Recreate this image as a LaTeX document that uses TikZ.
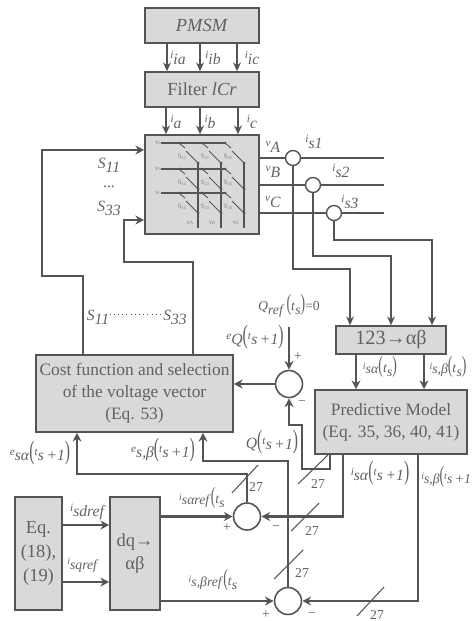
\documentclass[tikz,border=0pt]{standalone}
\usepackage{fontspec}
\setmainfont{Liberation Serif}
\usetikzlibrary{arrows.meta}
\definecolor{boxgray}{gray}{0.85}
\definecolor{inkgray}{gray}{0.33}
\definecolor{txtgray}{gray}{0.38}
\newcommand{\lsub}[2]{\textit{#1}\raisebox{-.55ex}{\textit{#2}}}
\newcommand{\ssub}[2]{\raisebox{.55ex}{\scalebox{.72}{\textit{#1}}}\raisebox{-.2ex}{\textit{#2}}}
\newcommand{\tallpar}[1]{\scalebox{1}[1.7]{(}#1\scalebox{1}[1.7]{)}}
\tikzset{
    blockbox/.style={draw=inkgray, fill=boxgray, line width=0.9pt, inner sep=0pt, align=center, text=txtgray, font=\fontsize{9.9}{12.6}\selectfont},
    sumcirc/.style={draw=inkgray, fill=white, circle, line width=0.9pt, inner sep=0pt, minimum size=0.54cm},
    sensor/.style={draw=inkgray, fill=white, circle, line width=0.8pt, inner sep=0pt, minimum size=0.3cm},
    thickline/.style={draw=inkgray, line width=1.2pt},
    thinline/.style={draw=inkgray, line width=0.75pt},
    thickarrow/.style={thickline, -{Stealth[length=5pt,width=5pt]}},
    thinarrow/.style={thinline, -{Stealth[length=5pt,width=4.5pt]}},
    lbl/.style={text=txtgray, inner sep=0pt, font=\fontsize{8.9}{11}\selectfont},
    smalllbl/.style={text=txtgray, inner sep=0pt, font=\fontsize{7.8}{9}\selectfont},
    tinylbl/.style={text=gray, inner sep=0pt, font=\fontsize{3.8}{4}\selectfont},
    busmark/.style={draw=inkgray, line width=0.6pt},
}
\begin{document}
\begin{tikzpicture}[x=0.02cm, y=-0.02cm]
            \useasboundingbox (0,0) rectangle (471,621);

            % Blocks
            \node[blockbox, minimum width=2.28cm, minimum height=0.7cm, font=\fontsize{10.5}{12}\selectfont] (pmsm) at (202,25.5) {\textit{PMSM}};
            \node[blockbox, minimum width=2.28cm, minimum height=0.7cm, font=\fontsize{10.5}{12}\selectfont] (filter) at (202,89.5) {Filter \textit{lCr}};
            \node[blockbox, minimum width=2.28cm, minimum height=1.98cm] (matrix) at (202,184.5) {};
            \node[blockbox, minimum width=3.94cm, minimum height=1.54cm] (cost) at (134.5,393.5) {Cost function and selection\\of the voltage vector\\(Eq. 53)};
            \node[blockbox, minimum width=2.2cm, minimum height=0.56cm, font=\fontsize{11.5}{14}\selectfont] (park) at (391,340) {123\textbf{→}αβ};
            \node[blockbox, minimum width=3.04cm, minimum height=1.28cm] (model) at (391,422) {Predictive Model\\(Eq. 35, 36, 40, 41)};
            \node[blockbox, minimum width=0.94cm, minimum height=2.26cm, font=\fontsize{10.5}{13.5}\selectfont] (eqs) at (38.5,553.5) {Eq.\\(18),\\(19)};
            \node[blockbox, minimum width=1cm, minimum height=2.26cm, font=\fontsize{10.5}{13.5}\selectfont] (dq) at (135,553.5) {dq\textbf{→}\\αβ};

            % Summing circles
            \node[sumcirc] (sumq) at (289,384) {};
            \node[sumcirc] (sumalpha) at (247,516.5) {};
            \node[sumcirc] (sumbeta) at (288,601) {};

            % Current sensors
            \node[sensor] (sens1) at (293,158) {};
            \node[sensor] (sens2) at (313,185) {};
            \node[sensor] (sens3) at (334,213) {};

            % Free line ends and bends
            \foreach \name/\x/\y in {ta/167/0, tb/200/0, tc/237/0, ua/166/0, ub/200/0, uc/238/0,
                    endA/384/158, endB/384/185, endC/384/213, fbin/0/150, fbout/0/220,
                    fba/83/0, fbb/193/0, parka/350/0, parkb/391/0, parkc/432/0,
                    moda/356/0, modb/424/0, outq/330/0, outa/343/0, outb/418/0,
                    erra/77/0, errb/203/0, refq/289/327, eqa/0/525, eqb/0/582} {
                \coordinate (\name) at (\x,\y);
            }

            % Currents into the converter
            \foreach \pt in {ta, tb, tc} {
                \draw[thinarrow] (pmsm.south -| \pt) -- (filter.north -| \pt);
            }
            \foreach \pt in {ua, ub, uc} {
                \draw[thinarrow] (filter.south -| \pt) -- (matrix.north -| \pt);
            }

            % Output phases
            \draw[thinline] (matrix.east |- endA) -- (sens1) -- (endA);
            \draw[thinline] (matrix.east |- endB) -- (sens2) -- (endB);
            \draw[thinline] (matrix.east |- endC) -- (sens3) -- (endC);

            % Sensor lines to the transform
            \draw[thinarrow] (sens1) -- (293,269) -| (park.north -| parka);
            \draw[thinarrow] (sens2) -- (313,256) -| (park.north -| parkb);
            \draw[thinarrow] (sens3) -- (334,240) -| (park.north -| parkc);

            % Gate signals
            \draw[thickarrow] (cost.north -| fba) |- (42,276) |- (matrix.west |- fbin);
            \draw[thickarrow] (cost.north -| fbb) |- (124,262) |- (matrix.west |- fbout);

            % Transform to model
            \foreach \pt in {moda, modb} {
                \draw[thickarrow] (park.south -| \pt) -- (model.north -| \pt);
            }

            % Reactive power loop
            \draw[thickarrow] (refq) -- (sumq);
            \draw[thickarrow] (sumq) -- (cost.east |- sumq);
            \draw[thickarrow] (model.south -| outq) |- (302,469) |- (289,425) -- (sumq);

            % Alpha and beta loops
            \draw[thickarrow] (model.south -| outa) |- (sumalpha);
            \draw[thickarrow] (model.south -| outb) |- (sumbeta);
            \draw[thickarrow] (sumalpha) |- (erra |- 0,474) -- (cost.south -| erra);
            \draw[thickarrow] (sumbeta) |- (errb |- 0,461) -- (cost.south -| errb);

            % References
            \draw[thickarrow] (eqs.east |- eqa) -- (dq.west |- eqa);
            \draw[thickarrow] (eqs.east |- eqb) -- (dq.west |- eqb);
            \draw[thickarrow] (dq.east |- sumalpha) -- (sumalpha);
            \draw[thickarrow] (dq.east |- sumbeta) -- (sumbeta);

            % Switch grid
            \foreach \col/\cx in {1/179, 2/202, 3/225} {
                \draw[thinline] ({\cx+19},163) -- ({\cx+19},228);
                \foreach \row/\ry in {1/143, 2/169, 3/193} {
                    \fill[inkgray] (\cx,\ry) circle (1.5);
                    \fill[inkgray] ({\cx+19},{\ry+20}) circle (1.5);
                    \draw[inkgray, line width=0.5pt] (\cx,\ry) -- ({\cx+6},{\ry+5});
                    \draw[inkgray, line width=0.5pt] ({\cx+7},{\ry+8}) -- ({\cx+19},{\ry+20});
                    \node[tinylbl] (sw\col\row) at ({\cx+3},{\ry+14}) {S\raisebox{-.3ex}{\scalebox{.7}{\col\row}}};
                }
            }
            \foreach \name/\y/\txt in {a/143/a, b/169/b, c/193/c} {
                \node[tinylbl] (vin\name) at (158,\y) {v\raisebox{-.3ex}{\scalebox{.7}{\txt}}};
                \draw[thinline] (vin\name.east) -- (224,\y);
            }
            \foreach \name/\x/\txt in {A/190/A, B/212/B, C/236/C} {
                \node[tinylbl] (vout\name) at (\x,223) {v\raisebox{-.3ex}{\scalebox{.7}{\txt}}};
            }

            % Labels
            \node[lbl] (liia) at (178,58) {\ssub{i}{ia}};
            \node[lbl] (liib) at (213,58) {\ssub{i}{ib}};
            \node[lbl] (liic) at (252,58) {\ssub{i}{ic}};
            \node[lbl] (lia) at (176,122) {\ssub{i}{a}};
            \node[lbl] (lib) at (210,122) {\ssub{i}{b}};
            \node[lbl] (lic) at (252,122) {\ssub{i}{c}};
            \node[lbl] (lva) at (273,147) {\ssub{v}{A}};
            \node[lbl] (lvb) at (273,172) {\ssub{v}{B}};
            \node[lbl] (lvc) at (273,202) {\ssub{v}{C}};
            \node[lbl] (lis1) at (314,142) {\ssub{i}{s1}};
            \node[lbl] (lis2) at (341,171) {\ssub{i}{s2}};
            \node[lbl] (lis3) at (350,202) {\ssub{i}{s3}};
            \node[lbl] (ls11) at (109,165) {\lsub{S}{11}};
            \node[lbl] (ldots) at (109,187) {...};
            \node[lbl] (ls33) at (109,208) {\lsub{S}{33}};
            \node[lbl] (lsa) at (98,317) {\lsub{S}{11}};
            \node[lbl] (lsb) at (175,317) {\lsub{S}{33}};
            \draw[dotted, inkgray] (lsa.east |- 0,314) -- (lsb.west |- 0,314);
            \node[smalllbl] (lqref) at (289,306) {\lsub{Q}{ref}\,\tallpar{\lsub{t}{s}}=0};
            \node[lbl] (leq) at (255,337) {\ssub{e}{Q}\tallpar{\ssub{t}{s\,+1}}};
            \node[smalllbl] (lisa) at (380,367) {\ssub{i}{sα}\tallpar{\lsub{t}{s}}};
            \node[smalllbl] (lisb) at (448,367) {\ssub{i}{s,β}\tallpar{\lsub{t}{s}}};
            \node[lbl] (lesa) at (40,453) {\ssub{e}{sα}\tallpar{\ssub{t}{s\,+1}}};
            \node[lbl] (lesb) at (163,450) {\ssub{e}{s,β}\tallpar{\ssub{t}{s\,+1}}};
            \node[lbl] (lqp) at (272,442) {\textit{Q}\tallpar{\ssub{t}{s\,+1}}};
            \node[lbl] (lpa) at (380,473) {\ssub{i}{sα}\tallpar{\ssub{t}{s\,+1}}};
            \node[smalllbl, anchor=west] (lpb) at (421,477) {\ssub{i}{s,β}\scalebox{1}[1.7]{(}\ssub{t}{s\,+1}};
            \node[lbl] (lsd) at (88,512) {\ssub{i}{sdref}};
            \node[smalllbl] (lsq) at (83,565) {\ssub{i}{sqref}};
            \node[smalllbl] (lra) at (202,498) {\ssub{i}{sαref}\scalebox{1}[1.7]{(}\lsub{t}{s}};
            \node[smalllbl] (lrb) at (213,580) {\ssub{i}{s,βref}\scalebox{1}[1.7]{(}\lsub{t}{s}};

            % Signs
            \foreach \name/\x/\y/\sgn in {qp/298/357/+, qm/302/403/−, ap/227/528/+, am/276/528/−, bp/266/615/+, bm/312/615/−} {
                \node[smalllbl] (sg\name) at (\x,\y) {\sgn};
            }

            % Bus marks
            \foreach \xa/\ya/\xb/\yb/\name/\lx/\ly in {232/493/258/465/a/256/487, 298/484/328/455/b/318/484,
                    291/531/319/503/c/312/531, 274/579/303/550/d/302/573, 357/616/384/587/e/377/615} {
                \draw[busmark] (\xa,\ya) -- (\xb,\yb);
                \node[smalllbl] (bus\name) at (\lx,\ly) {27};
            }
\end{tikzpicture}
\end{document}
